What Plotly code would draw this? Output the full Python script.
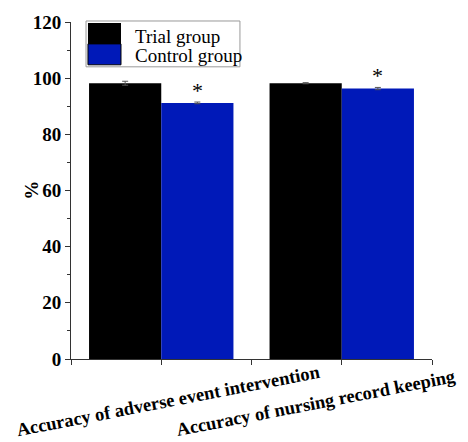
import plotly.graph_objects as go

categories = ["Accuracy of adverse event intervention", "Accuracy of nursing record keeping"]
series_names = ["Trial group", "Control group"]
trial_values = [98.2, 98.2]
control_values = [91.2, 96.3]
trial_errors = [0.7, 0.2]
control_errors = [0.3, 0.4]
control_marks = ["*", "*"]
y_ticks = [0, 20, 40, 60, 80, 100, 120]

BLUE = "#0019B8"
SERIF = "Liberation Serif, Times New Roman, serif"

xpos = [i + 0.5 for i in range(len(categories))]

fig = go.Figure()
fig.add_trace(go.Bar(
    x=xpos, y=trial_values, name=series_names[0], marker=dict(color="black", line=dict(width=0)),
    error_y=dict(type="data", array=trial_errors, color="#555555", thickness=1, width=3),
    showlegend=False))
fig.add_trace(go.Bar(
    x=xpos, y=control_values, name=series_names[1], marker=dict(color=BLUE, line=dict(width=0)),
    error_y=dict(type="data", array=control_errors, color="#555555", thickness=1, width=3),
    showlegend=False))

annotations = []
for i, (v, e, m) in enumerate(zip(control_values, control_errors, control_marks)):
    annotations.append(dict(x=xpos[i] + 0.2, y=v + e, xref="x", yref="y", text=m,
                            showarrow=False, yanchor="bottom", yshift=-3,
                            font=dict(family=SERIF, size=22, color="black")))

label_pos = [(0.54, -0.125), (1.36, -0.130)]
for cat, (lx, ly) in zip(categories, label_pos):
    annotations.append(dict(x=lx, y=ly, xref="x", yref="paper", text="<b>" + cat + "</b>",
                            showarrow=False, textangle=-11, xanchor="center", yanchor="middle",
                            font=dict(family=SERIF, size=18.5, color="black")))

annotations.append(dict(x=-0.145, y=0.5, xref="paper", yref="paper", text="<b>%</b>",
                        showarrow=False, textangle=-90,
                        font=dict(family=SERIF, size=19, color="black")))

shapes = [
    dict(type="rect", xref="paper", yref="paper", x0=0.0416, x1=0.468, y0=0.867, y1=1.003,
         line=dict(color="#999999", width=1), fillcolor="rgba(255,255,255,0)"),
    dict(type="rect", xref="paper", yref="paper", x0=0.047, x1=0.1385, y0=0.935, y1=0.997,
         line=dict(width=0), fillcolor="black"),
    dict(type="rect", xref="paper", yref="paper", x0=0.047, x1=0.1385, y0=0.873, y1=0.935,
         line=dict(color="black", width=1), fillcolor=BLUE),
]
for name, ly in zip(series_names, [0.958, 0.900]):
    annotations.append(dict(x=0.172, y=ly, xref="paper", yref="paper", text=name,
                            showarrow=False, xanchor="left", yanchor="middle",
                            font=dict(family=SERIF, size=19, color="black")))

fig.update_layout(
    width=468, height=442,
    margin=dict(l=71, r=36, t=20, b=83),
    paper_bgcolor="white", plot_bgcolor="white",
    barmode="group", bargap=0.2, bargroupgap=0,
    annotations=annotations, shapes=shapes,
    xaxis=dict(range=[0, 2], tickvals=[0, 0.5, 1, 1.5, 2], showticklabels=False,
               ticks="outside", ticklen=5, tickcolor="#333333", showline=True,
               linecolor="#333333", linewidth=1, showgrid=False, zeroline=False),
    yaxis=dict(range=[0, 120], tickvals=y_ticks, ticktext=["<b>%d</b>" % t for t in y_ticks],
               ticks="outside", ticklen=5, tickcolor="#333333", showline=True,
               linecolor="#333333", linewidth=1, showgrid=False, zeroline=False,
               tickfont=dict(family=SERIF, size=19, color="black"),
               minor=dict(dtick=10, ticks="outside", ticklen=3, tickcolor="#333333")),
)

fig.write_html("out.html", config={"displayModeBar": False},
               post_script="document.body.style.margin='0';document.body.style.overflow='hidden';")
